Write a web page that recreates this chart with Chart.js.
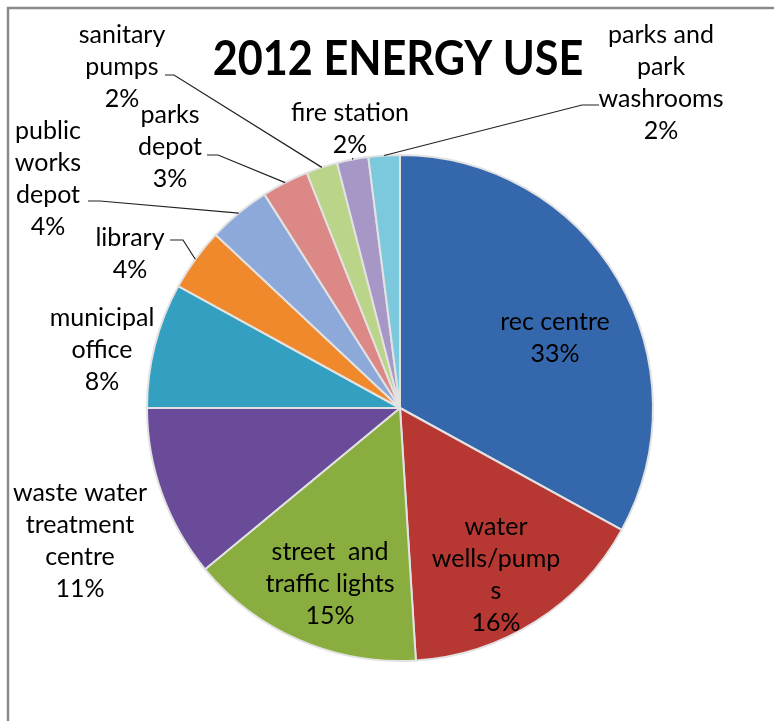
<!DOCTYPE html>
<html><head><meta charset="utf-8">
<script src="https://cdn.jsdelivr.net/npm/chart.js@4"></script>
<style>html,body{margin:0;padding:0;background:#fff;overflow:hidden}#wrap{width:774px;height:721px;position:relative}</style>
</head><body><div id="wrap"><canvas id="c" width="774" height="721"></canvas></div>
<script>
const chartTitle = '2012 ENERGY USE';
const categories = ['rec centre','water wells/pumps','street  and traffic lights','waste water treatment centre','municipal office','library','public works depot','parks depot','sanitary pumps','fire station','parks and park washrooms'];
const values = [33,16,15,11,8,4,4,3,2,2,2];
const labelLines = [['rec centre'],['water','wells/pump','s'],['street  and','traffic lights'],['waste water','treatment','centre'],['municipal','office'],['library'],['public','works','depot'],['parks','depot'],['sanitary','pumps'],['fire station'],['parks and','park','washrooms']];
const colors = ['#3567AC','#B73833','#89AD3E','#694B9A','#33A0C1','#F0882C','#8CA9DA','#DC8886','#BAD489','#A697C7','#7CC9DE'];

// layout only (label text positions, leader elbows)
const LH = 32;
const labelLayout = [
  {x:555,y:322},
  {x:496,y:527},
  {x:330,y:552},
  {x:80,y:493},
  {x:102,y:318},
  {x:130,y:238, leader:{tx:170,ty:240,ex:183}},
  {x:48,y:131, leader:{tx:88,ty:201,ex:100}},
  {x:170,y:115, leader:{tx:207,ty:155,ex:218}},
  {x:122,y:35, leader:{tx:165,ty:75,ex:174}},
  {x:350,y:113, leader:{vert:true, ty:158}},
  {x:661,y:35, leader:{tx:599,ty:105,ex:582}}
];

const total = values.reduce((a,b)=>a+b,0);

const overlay = {
  id:'overlay',
  beforeDraw(chart){
    const ctx = chart.ctx;
    ctx.save();
    ctx.fillStyle='#fff';
    ctx.fillRect(0,0,chart.width,chart.height);
    ctx.strokeStyle='#8a8a8a';
    ctx.lineWidth=2.5;
    ctx.beginPath();
    ctx.moveTo(8,chart.height);
    ctx.lineTo(8,8);
    ctx.lineTo(chart.width,8);
    ctx.stroke();
    ctx.restore();
  },
  afterDraw(chart){
    const ctx = chart.ctx;
    const meta = chart.getDatasetMeta(0);
    ctx.save();
    // title
    ctx.fillStyle='#000';
    ctx.textAlign='center';
    ctx.textBaseline='middle';
    ctx.save();
    ctx.translate(398,60);
    ctx.scale(0.9,1);
    ctx.font='bold 48px Lato, "Open Sans", sans-serif';
    ctx.fillText(chartTitle,0,0);
    ctx.restore();
    // leaders
    ctx.strokeStyle='#222';
    ctx.lineWidth=1.2;
    labelLayout.forEach((L,i)=>{
      if(!L.leader) return;
      const arc = meta.data[i];
      const mid = (arc.startAngle+arc.endAngle)/2;
      const px = arc.x + arc.outerRadius*Math.cos(mid);
      const py = arc.y + arc.outerRadius*Math.sin(mid);
      ctx.beginPath();
      if(L.leader.vert){
        ctx.moveTo(px,py);
        ctx.lineTo(px,L.leader.ty);
      } else {
        ctx.moveTo(L.leader.tx,L.leader.ty);
        ctx.lineTo(L.leader.ex,L.leader.ty);
        ctx.lineTo(px,py);
      }
      ctx.stroke();
    });
    // labels
    ctx.fillStyle='#000';
    ctx.font='25px Lato, "Open Sans", sans-serif';
    labelLayout.forEach((L,i)=>{
      const lines = labelLines[i].concat([Math.round(values[i]/total*100)+'%']);
      lines.forEach((t,k)=>{
        ctx.fillText(t,L.x, L.y+k*LH);
      });
    });
    ctx.restore();
  }
};

new Chart(document.getElementById('c'),{
  type:'pie',
  data:{labels:categories,datasets:[{data:values,backgroundColor:colors,borderColor:'#E2E2E2',borderWidth:2}]},
  options:{
    responsive:false,animation:false,
    rotation:0,
    layout:{padding:{left:146,right:120,top:154,bottom:59}},
    plugins:{legend:{display:false},tooltip:{enabled:false},title:{display:false}}
  },
  plugins:[overlay]
});
</script></body></html>
